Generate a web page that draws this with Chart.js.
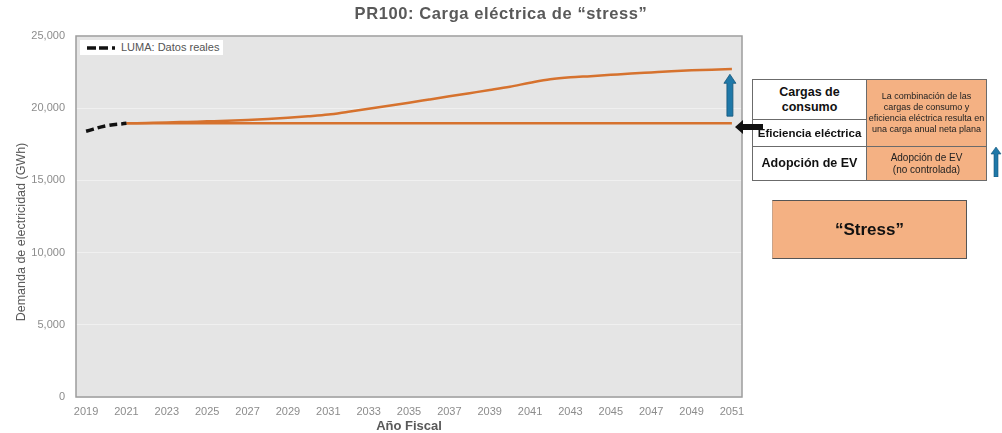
<!DOCTYPE html>
<html>
<head>
<meta charset="utf-8">
<script src="https://cdn.jsdelivr.net/npm/chart.js@4.4.0/dist/chart.umd.min.js"></script>
<style>
body { margin: 0; background: #fff; font-family: "Liberation Sans", Arial, sans-serif; }
#wrap { position: relative; width: 1002px; height: 433px; overflow: hidden; }
#title { position: absolute; left: 0; top: 4px; width: 1002px; text-align: center;
  font-weight: bold; font-size: 16.5px; letter-spacing: 0.6px; color: #595959; }
#ytitle { position: absolute; left: -79px; top: 225px; width: 200px; height: 14px; line-height: 14px;
  text-align: center; transform: rotate(-90deg); font-size: 12.5px; color: #595959; white-space: nowrap; }
#legend { position: absolute; left: 80px; top: 40px; width: 143px; height: 15px; background: #fff;
  font-size: 11px; line-height: 15px; color: #555; }
#legend span { position: absolute; left: 41px; top: 0; }
.cell { position: absolute; box-sizing: border-box; border: 1px solid #6b6b6b;
  display: flex; align-items: center; justify-content: center; text-align: center; color: #111; }
.left { background: #fff; font-weight: bold; font-size: 12.5px; line-height: 15px; }
.right { background: #F4B183; font-family: "Liberation Sans Narrow", "Liberation Sans", Arial, sans-serif;
  font-size: 9px; line-height: 11px; color: #222; }
#stress { position: absolute; left: 772px; top: 200px; width: 195px; height: 59px; box-sizing: border-box;
  background: #F4B183; border: 1px solid #555; border-left-color: #c9a48a;
  display: flex; align-items: center; justify-content: center;
  font-weight: bold; font-size: 17px; color: #111; }
svg { position: absolute; }
</style>
</head>
<body>
<div id="wrap">
  <canvas id="chart" width="1002" height="433"></canvas>
  <div id="title">PR100: Carga eléctrica de “stress”</div>
  <div id="ytitle">Demanda de electricidad (GWh)</div>

  <div id="legend">
    <svg style="left:7px; top:0;" width="31" height="15">
      <line x1="0" y1="8" x2="31" y2="8" stroke="#111" stroke-width="3.5" stroke-dasharray="9,3,9,4,3,5"/>
    </svg>
    <span>LUMA: Datos reales</span>
  </div>

  <div class="cell left" style="left:752px; top:79px; width:115px; height:41px;">Cargas de<br>consumo</div>
  <div class="cell left" style="left:752px; top:119px; width:115px; height:28px; font-size:11.5px;">Eficiencia eléctrica</div>
  <div class="cell left" style="left:752px; top:146px; width:115px; height:35px;">Adopción de EV</div>
  <div class="cell right" style="left:866px; top:79px; width:121px; height:68px;">La combinación de las<br>cargas de consumo y<br>eficiencia eléctrica resulta en<br>una carga anual neta plana</div>
  <div class="cell right" style="left:866px; top:146px; width:121px; height:35px; font-size:10px; line-height:12px;">Adopción de EV<br>(no controlada)</div>

  <div id="stress">“Stress”</div>

  <!-- black arrow pointing at the flat line -->
  <svg style="left:735px; top:120px;" width="28" height="14">
    <polygon points="0,7 8,0 8,4 28,4 28,10 8,10 8,14" fill="#111"/>
  </svg>
  <!-- blue arrow next to the table -->
  <svg style="left:990px; top:147px;" width="12" height="30">
    <polygon points="6,0 11,7 8,7 8,30 4,30 4,7 1,7" fill="#1F78A8" stroke="#15557a" stroke-width="0.6"/>
  </svg>
</div>

<script>
// ---------------- DATA ----------------
const years = [
    "2019", "2020", "2021", "2022", "2023", "2024", "2025", "2026", "2027", "2028",
    "2029", "2030", "2031", "2032", "2033", "2034", "2035", "2036", "2037", "2038",
    "2039", "2040", "2041", "2042", "2043", "2044", "2045", "2046", "2047", "2048",
    "2049", "2050", "2051"
];

// GWh, actuals
const lumaReal = [18400, 18780, 18950];

// GWh, stress load (consumption + uncontrolled EV)
const stressLoad = [
    null, null, 18950, 18980, 19010, 19050, 19090, 19130, 19190, 19260,
    19340, 19440, 19560, 19760, 19960, 20170, 20380, 20600, 20820, 21040,
    21260, 21490, 21760, 22000, 22140, 22220, 22310, 22400, 22480, 22560,
    22620, 22670, 22710
];

// GWh, consumption + efficiency (flat)
const flatLoad = [
    null, null, 18950, 18950, 18950, 18950, 18950, 18950, 18950, 18950,
    18950, 18950, 18950, 18950, 18950, 18950, 18950, 18950, 18950, 18950,
    18950, 18950, 18950, 18950, 18950, 18950, 18950, 18950, 18950, 18950,
    18950, 18950, 18950
];

// blue arrow inside the plot (from / to, GWh)
const evArrow = [19450, 22350];

const orange = "#D6722E";

// ---------------- PLUGINS ----------------
const plotFrame = {
    id: "plotFrame",
    beforeDraw(chart) {
        const { ctx, chartArea: a } = chart;
        ctx.save();
        ctx.fillStyle = "#E5E5E5";
        ctx.fillRect(a.left, a.top, a.right - a.left, a.bottom - a.top);
        ctx.restore();
    },
    afterDatasetsDraw(chart) {
        const { ctx, scales } = chart;
        const x = scales.x.getPixelForValue(years.length - 1) - 2;
        const y0 = scales.y.getPixelForValue(evArrow[0]);
        const y1 = scales.y.getPixelForValue(evArrow[1]);
        ctx.save();
        ctx.fillStyle = "#1F78A8";
        ctx.strokeStyle = "#15557a";
        ctx.lineWidth = 0.8;
        ctx.beginPath();
        ctx.moveTo(x, y1);
        ctx.lineTo(x + 6, y1 + 9);
        ctx.lineTo(x + 3, y1 + 9);
        ctx.lineTo(x + 3, y0);
        ctx.lineTo(x - 3, y0);
        ctx.lineTo(x - 3, y1 + 9);
        ctx.lineTo(x - 6, y1 + 9);
        ctx.closePath();
        ctx.fill();
        ctx.stroke();
        ctx.restore();
    },
    afterDraw(chart) {
        const { ctx, chartArea: a } = chart;
        ctx.save();
        ctx.strokeStyle = "#9C9C9C";
        ctx.lineWidth = 1.5;
        ctx.strokeRect(a.left, a.top, a.right - a.left, a.bottom - a.top);
        ctx.restore();
    }
};

// ---------------- CHART ----------------
new Chart("chart", {
    type: "line",
    data: {
        labels: years,
        datasets: [
            {
                label: "LUMA: Datos reales",
                data: lumaReal,
                borderColor: "#111",
                borderWidth: 3.5,
                borderDash: [8, 4],
                pointRadius: 0,
                tension: 0.4
            },
            {
                label: "Stress",
                data: stressLoad,
                borderColor: orange,
                borderWidth: 2.5,
                pointRadius: 0,
                cubicInterpolationMode: "monotone"
            },
            {
                label: "Plana",
                data: flatLoad,
                borderColor: orange,
                borderWidth: 2.5,
                pointRadius: 0
            }
        ]
    },
    options: {
        responsive: false,
        animation: false,
        layout: { padding: { left: 0, top: 36, right: 260, bottom: 0 } },
        plugins: {
            legend: { display: false },
            tooltip: { enabled: false }
        },
        scales: {
            x: {
                offset: true,
                grid: { display: false, drawTicks: false },
                border: { display: false },
                afterFit: s => { s.height = 36; },
                ticks: {
                    autoSkip: false,
                    maxRotation: 0,
                    padding: 8,
                    color: "#8C8C8C",
                    font: { family: "Liberation Sans", size: 11 },
                    callback: (v, i) => (i % 2 === 0 ? years[i] : "")
                },
                title: {
                    display: true,
                    text: "Año Fiscal",
                    color: "#595959",
                    padding: { top: 0, bottom: 0 },
                    font: { family: "Liberation Sans", size: 13, weight: "bold", lineHeight: 1 }
                }
            },
            y: {
                min: 0,
                max: 25000,
                grid: { color: "#F0F0F0", lineWidth: 1, drawTicks: false },
                border: { display: false },
                afterFit: s => { s.width = 76; },
                ticks: {
                    stepSize: 5000,
                    padding: 11,
                    color: "#8C8C8C",
                    font: { family: "Liberation Sans", size: 11 },
                    callback: v => v.toLocaleString("en-US")
                }
            }
        }
    },
    plugins: [plotFrame]
});
</script>
</body>
</html>
